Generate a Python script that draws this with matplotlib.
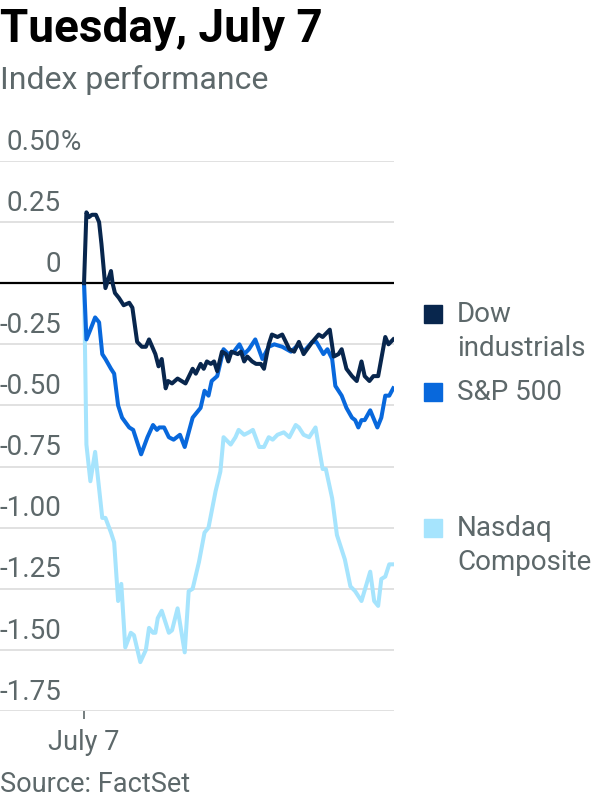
import matplotlib
matplotlib.use("Agg")
import matplotlib.pyplot as plt
from matplotlib.patches import Rectangle
import matplotlib.transforms as mtransforms

plt.rcParams['font.family'] = ['Roboto', 'DejaVu Sans']

# minutes after the open, percent change
dow_t = [0, 3, 6, 10, 15, 19, 22, 27, 31, 34, 36, 39, 44, 50, 57, 61, 67, 73, 78, 82,
         86, 90, 94, 98, 103, 106, 111, 118, 123, 128, 137, 141, 147, 151, 155, 160, 164, 168, 174, 179,
         182, 186, 194, 198, 202, 206, 212, 217, 223, 227, 233, 237, 244, 250, 259, 265, 271, 277, 288, 296,
         301, 310, 315, 321, 325, 331, 338, 344, 350, 354, 360, 365, 371, 380, 384, 390]
dow_v = [0, 0.29, 0.27, 0.28, 0.28, 0.25, 0.16, -0.02, 0.02, 0.05, 0.0, -0.04, -0.06, -0.09, -0.08, -0.10, -0.24, -0.26, -0.26, -0.23,
         -0.26, -0.29, -0.34, -0.31, -0.43, -0.40, -0.41, -0.39, -0.40, -0.41, -0.35, -0.37, -0.33, -0.35, -0.32, -0.33, -0.32, -0.36, -0.28, -0.29,
         -0.32, -0.28, -0.29, -0.28, -0.32, -0.30, -0.32, -0.33, -0.33, -0.35, -0.25, -0.21, -0.22, -0.21, -0.27, -0.28, -0.24, -0.29, -0.24, -0.21,
         -0.22, -0.19, -0.30, -0.29, -0.27, -0.35, -0.38, -0.40, -0.32, -0.38, -0.40, -0.38, -0.38, -0.22, -0.25, -0.23]

sp_t = [0, 3, 8, 14, 19, 23, 27, 34, 38, 43, 48, 57, 62, 72, 80, 87, 92, 95, 101, 107,
        113, 121, 127, 137, 147, 152, 157, 161, 168, 176, 182, 189, 196, 202, 208, 216, 225, 233, 240, 250,
        261, 271, 277, 288, 293, 302, 307, 313, 317, 325, 331, 338, 342, 346, 350, 354, 361, 370, 375, 380,
        385, 390]
sp_v = [0, -0.23, -0.19, -0.14, -0.16, -0.29, -0.31, -0.35, -0.37, -0.50, -0.55, -0.59, -0.60, -0.70, -0.63, -0.58, -0.60, -0.59, -0.59, -0.63,
        -0.64, -0.62, -0.67, -0.55, -0.51, -0.44, -0.46, -0.40, -0.38, -0.27, -0.29, -0.28, -0.25, -0.29, -0.27, -0.23, -0.31, -0.26, -0.25, -0.26,
        -0.28, -0.25, -0.28, -0.24, -0.24, -0.29, -0.27, -0.31, -0.42, -0.46, -0.51, -0.55, -0.56, -0.59, -0.56, -0.56, -0.52, -0.59, -0.55, -0.46,
        -0.46, -0.43]

nq_t = [0, 3, 8, 14, 18, 23, 27, 34, 38, 43, 47, 52, 59, 63, 71, 78, 82, 87, 90, 93,
        98, 107, 111, 118, 127, 132, 137, 145, 152, 157, 166, 172, 176, 185, 191, 195, 202, 208, 213, 221,
        227, 233, 238, 244, 252, 259, 267, 271, 277, 284, 292, 301, 305, 313, 319, 329, 336, 342, 350, 361,
        366, 371, 375, 380, 385, 390]
nq_v = [0, -0.66, -0.81, -0.69, -0.81, -0.96, -0.96, -1.02, -1.06, -1.30, -1.23, -1.49, -1.43, -1.44, -1.55, -1.50, -1.41, -1.43, -1.43, -1.37,
        -1.34, -1.43, -1.42, -1.33, -1.51, -1.26, -1.25, -1.14, -1.02, -1.00, -0.85, -0.77, -0.63, -0.66, -0.63, -0.60, -0.62, -0.61, -0.60, -0.67,
        -0.67, -0.63, -0.64, -0.62, -0.61, -0.63, -0.58, -0.59, -0.62, -0.63, -0.59, -0.76, -0.76, -0.88, -1.03, -1.13, -1.24, -1.26, -1.30, -1.18,
        -1.30, -1.32, -1.21, -1.20, -1.15, -1.15]

y_ticks = [0.5, 0.25, 0, -0.25, -0.5, -0.75, -1.0, -1.25, -1.5, -1.75]
y_labels = ['0.50', '0.25', '0', '-0.25', '-0.50', '-0.75', '-1.00', '-1.25', '-1.50', '-1.75']

names = [['Dow', 'industrials'], ['S&P 500'], ['Nasdaq', 'Composite']]
colors = ['#08264d', '#0868dc', '#a6e4fd']
gray = '#5d686a'

W, H = 600, 800
fig = plt.figure(figsize=(6, 8), dpi=100)


def fx(x):
    return x / W


def fy(y):
    return 1 - y / H


ax = fig.add_axes([0, fy(711), fx(394), fy(161) - fy(711)])
ax.set_xlim(-106, 391)
ax.set_ylim(-1.75, 0.5)
for s in ax.spines.values():
    s.set_visible(False)

for v in y_ticks:
    if v == 0:
        ax.axhline(v, color='black', lw=1.6, zorder=2)
    else:
        ax.axhline(v, color='#dedede', lw=1.3, zorder=1)

ax.plot(nq_t, nq_v, color=colors[2], lw=2.9, zorder=3)
ax.plot(sp_t, sp_v, color=colors[1], lw=2.9, zorder=4)
ax.plot(dow_t, dow_v, color=colors[0], lw=2.9, zorder=5)

ax.set_yticks([])
ax.set_xticks([0])
ax.set_xticklabels(['July 7'], fontsize=19.5, color=gray)
ax.tick_params(axis='x', length=6, width=1.2, color=gray, pad=7)

trans = mtransforms.blended_transform_factory(ax.transAxes, ax.transData)
for v, lab in zip(y_ticks, y_labels):
    ax.text(61 / 394, v + 0.077, lab, transform=trans, ha='right', va='center',
            fontsize=20, color=gray)
ax.text(61 / 394, y_ticks[0] + 0.077, '%', transform=trans, ha='left', va='center',
        fontsize=20, color=gray)

fig.text(fx(0), fy(29), 'Tuesday, July 7', fontsize=33, fontweight='bold',
         color='black', va='center', ha='left')
fig.text(fx(0), fy(80), 'Index performance', fontsize=23, color=gray,
         va='center', ha='left')
fig.text(fx(0), fy(785), 'Source: FactSet', fontsize=19.5, color=gray,
         va='center', ha='left')

# legend
sq_y = [305, 383, 519]
for lines, c, y0 in zip(names, colors, sq_y):
    fig.patches.append(Rectangle((fx(424), fy(y0 + 18)), fx(18), 18 / H,
                                 transform=fig.transFigure, color=c))
    for i, t in enumerate(lines):
        fig.text(fx(457), fy(y0 + 9 + 34 * i), t, fontsize=20, color=gray,
                 va='center', ha='left')

fig.savefig('out.png', dpi=100)
